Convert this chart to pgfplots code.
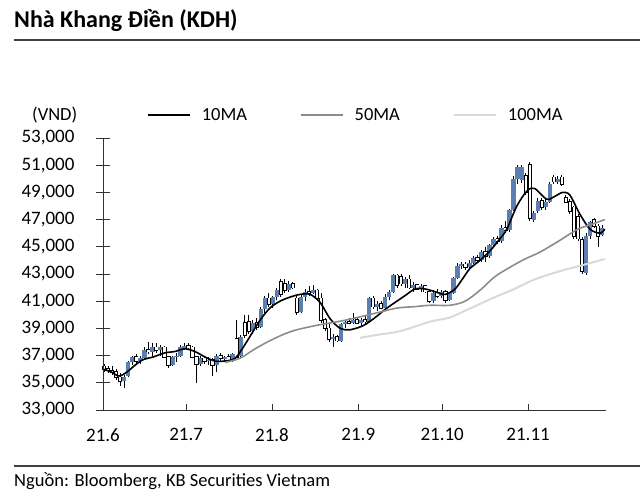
\documentclass[border=0pt]{standalone}
\usepackage{pgfplots}
\pgfplotsset{compat=1.18}
\usepackage{pgfplotstable}
\usepackage{fontspec}
\setmainfont{Carlito}
\definecolor{kbblue}{HTML}{5B80B0}
\definecolor{ma50}{HTML}{8C8C8C}
\definecolor{ma100}{HTML}{D9D9D9}

\pgfplotstableread{
i o h l c
5 35.1 35.6 34.6 35.4
6 35.5 36.6 35.4 36.5
7 36.5 37.0 36.3 36.9
9 36.6 37.0 36.4 36.8
10 36.8 37.6 36.7 37.4
12 37.3 37.9 37.0 37.6
14 37.4 37.8 37.0 37.6
17 36.3 37.0 36.2 36.9
18 36.9 37.2 36.5 37.0
19 37.0 37.8 36.9 37.6
20 37.6 37.9 37.4 37.7
24 36.4 37.0 36.2 36.8
26 36.6 36.9 36.3 36.7
28 36.3 37.1 35.8 37.0
30 36.8 37.0 36.5 36.9
32 36.7 37.2 36.5 37.1
34 37.0 38.5 36.9 38.4
37 38.8 39.6 38.6 39.4
39 39.1 40.6 39.0 40.4
40 40.4 41.4 40.1 41.2
42 40.8 41.4 40.5 41.3
43 41.3 42.0 41.1 41.8
46 41.8 42.5 41.7 42.3
49 40.2 41.5 40.1 41.3
50 41.3 41.9 41.0 41.7
52 41.6 42.2 41.5 41.8
57 38.2 38.6 37.6 38.4
59 38.1 39.4 38.0 39.3
60 39.3 39.6 39.0 39.5
62 39.4 40.1 39.3 39.6
64 39.4 39.8 39.2 39.6
66 39.5 41.3 39.4 41.2
68 40.6 41.0 40.3 40.8
70 40.5 41.5 40.4 41.3
71 41.3 41.8 41.1 41.7
72 41.7 43.0 41.6 42.9
75 42.3 42.8 42.0 42.6
77 42.0 42.4 41.7 42.2
79 41.9 42.3 41.7 42.1
82 41.0 41.8 40.9 41.6
84 41.4 41.8 41.2 41.7
86 41.1 41.7 41.0 41.6
87 41.6 42.8 41.5 42.7
88 42.7 43.8 42.6 43.6
89 43.6 43.9 43.4 43.7
91 43.5 44.0 43.3 43.8
92 43.8 44.3 43.7 44.2
94 44.0 44.8 43.9 44.6
96 44.3 45.2 44.2 45.1
97 45.1 45.7 45.0 45.6
99 45.4 46.6 45.3 46.4
101 46.2 47.8 46.1 47.7
102 47.7 50.2 47.6 50.0
103 50.0 51.0 49.6 50.9
104 49.9 51.0 49.7 50.9
107 47.0 47.6 46.8 47.5
108 47.6 48.6 47.5 48.4
110 47.9 48.5 47.7 48.3
111 48.3 49.8 48.2 49.6
113 49.8 50.2 49.6 50.0
120 43.1 46.0 42.9 45.8
121 45.8 46.9 45.6 46.8
124 45.9 46.6 45.8 46.4
}\upc

\pgfplotstableread{
i o h l c
0 36.2 36.4 35.8 36.0
1 36.0 36.2 35.7 35.9
2 35.9 36.2 35.6 35.8
3 35.8 36.0 35.2 35.4
4 35.4 35.7 34.8 35.1
8 36.9 37.1 36.4 36.6
11 37.4 38.0 37.1 37.3
13 37.6 37.9 37.2 37.4
15 37.6 37.7 36.8 36.9
16 36.9 37.0 36.1 36.3
21 37.7 37.9 37.5 37.6
22 37.6 37.7 36.8 36.9
23 36.9 37.0 35.0 36.4
25 36.8 37.0 36.4 36.6
27 36.7 36.8 35.5 36.3
29 37.0 37.2 36.6 36.8
31 36.9 37.1 36.6 36.7
33 38.2 39.6 36.8 36.9
35 39.4 40.0 38.3 38.5
36 39.5 40.0 38.6 38.8
38 39.4 39.8 38.9 39.1
41 41.2 41.6 40.6 40.8
44 42.4 42.6 41.3 41.5
45 42.3 42.6 41.6 41.8
47 42.3 42.4 41.9 42.0
48 41.2 41.4 40.0 40.2
51 41.7 42.1 41.4 41.6
53 41.8 41.9 41.0 41.2
54 41.2 41.6 39.4 39.6
55 39.6 39.8 38.8 39.0
56 39.0 39.3 38.0 38.2
58 38.4 38.5 38.0 38.1
61 39.5 39.8 39.3 39.4
63 39.6 39.8 39.3 39.4
65 39.6 39.9 39.3 39.5
67 41.2 41.4 40.4 40.6
69 40.8 41.0 40.4 40.5
73 42.9 43.0 42.0 42.2
74 42.8 43.0 42.1 42.3
76 42.6 42.9 41.9 42.0
78 42.2 42.3 41.8 41.9
80 42.1 42.2 41.6 41.7
81 41.7 41.8 40.9 41.0
83 41.6 41.9 41.2 41.4
85 41.7 41.8 40.9 41.1
90 43.7 43.9 43.3 43.5
93 44.2 44.4 43.8 44.0
95 44.6 45.0 43.9 44.3
98 45.6 45.8 45.2 45.4
100 46.4 46.9 46.0 46.2
105 50.2 50.4 48.8 49.0
106 51.0 51.2 46.9 47.1
109 48.4 48.6 47.7 47.9
112 50.1 50.3 49.6 49.8
114 50.1 50.3 49.5 49.6
115 48.6 48.8 48.2 48.3
116 48.3 48.5 47.4 47.6
117 47.9 48.0 45.6 45.8
118 47.2 47.4 45.4 45.6
119 45.5 45.7 43.0 43.2
122 47.0 47.1 46.4 46.5
123 46.5 46.7 45.0 45.8
}\dnc

\pgfplotstableread{
x y
-0.3 36.0
1.7 35.8
3.7 35.5
5.7 35.8
7.7 36.3
9.7 36.7
12.2 36.9
15.1 37.2
17.6 37.3
20.1 37.5
22.6 37.3
25.1 36.9
27.6 36.6
30.1 36.6
32.6 36.8
34.6 37.6
36.3 38.4
38.8 39.6
41.3 40.5
43.8 41.0
46.3 41.3
48.8 41.5
51.3 41.5
53.8 40.9
56.3 39.7
58.8 39.0
61.2 38.9
64.5 39.2
67.5 39.8
70.0 40.4
72.4 40.9
74.9 41.4
77.4 41.9
79.9 41.9
82.4 41.7
84.9 41.5
87.4 41.9
89.4 42.7
91.1 43.4
93.6 44.0
96.1 44.7
98.6 45.6
100.3 46.3
102.8 48.0
105.3 49.1
107.2 49.3
110.2 48.5
112.2 48.7
114.2 49.0
116.0 48.8
118.5 47.4
121.0 46.3
123.5 46.0
124.7 46.3
}\maten

\pgfplotstableread{
x y
30.1 36.5
33.8 36.8
37.6 37.5
41.3 38.1
45.0 38.6
48.0 38.9
52.5 39.2
56.3 39.4
60.0 39.6
64.5 39.9
68.7 40.2
73.0 40.5
77.4 40.6
81.2 40.7
86.1 40.7
89.9 41.0
93.6 41.8
97.3 42.8
101.1 43.5
104.8 44.1
108.5 44.6
113.1 45.4
118.0 46.3
121.0 46.6
124.7 47.0
}\mafifty

\pgfplotstableread{
x y
63.7 38.3
67.5 38.5
73.7 38.8
81.2 39.5
86.1 39.8
89.9 40.3
93.6 40.8
97.3 41.3
101.8 41.85
107.2 42.6
113.4 43.2
118.5 43.6
124.7 44.1
}\mahundred

\begin{document}
\begin{tikzpicture}
\path[use as bounding box] (0,0) rectangle (640pt,500pt);
\node[anchor=base west, inner sep=0pt, font=\fontsize{24}{24}\selectfont\bfseries] at (14pt,472pt) {Nhà Khang Điền (KDH)};
\draw[line width=1.1pt, black!75] (14pt,460pt) -- (640pt,460pt);
\node[anchor=west, inner sep=0pt, font=\fontsize{18.5}{18.5}\selectfont] at (32pt,385pt) {(VND)};
\draw[line width=1.1pt, black!75] (14pt,34pt) -- (640pt,34pt);
\node[anchor=base west, inner sep=0pt, font=\fontsize{18.5}{18.5}\selectfont] at (14pt,13pt) {Nguồn: Bloomberg, KB Securities Vietnam};

\begin{axis}[
  at={(103pt,90pt)}, anchor=south west,
  scale only axis, width=503pt, height=272pt,
  xmin=-0.3, xmax=125, ymin=33, ymax=53,
  axis lines=left, axis line style={black!80, line width=0.8pt, -},
  tick align=inside, major tick length=6pt,
  tick style={black!80, line width=0.8pt},
  xtick={-0.3,20.4,41.8,63.3,84.2,105.6},
  xticklabels={21.6,21.7,21.8,21.9,21.10,21.11},
  ytick={33,35,...,53},
  yticklabels={{33,000},{35,000},{37,000},{39,000},{41,000},{43,000},{45,000},{47,000},{49,000},{51,000},{53,000}},
  ytick style={draw=none},
  ticklabel style={font=\fontsize{19}{19}\selectfont},
  yticklabel style={xshift=-25pt},
  xticklabel style={yshift=-15pt},
  clip=false,
  legend columns=3,
  legend style={draw=none, fill=none, at={(rel axis cs:0,1)}, anchor=west, xshift=44pt, yshift=23pt,
    font=\fontsize{18.5}{18.5}\selectfont, inner sep=0pt,
    /tikz/every odd column/.append style={column sep=9pt},
    /tikz/every even column/.append style={column sep=51pt}},
  legend image code/.code={\draw[#1] (0pt,0pt) -- (42pt,0pt);},
]
% wicks
\addplot[draw=none, mark=none, forget plot, error bars/.cd, y dir=both, y explicit, error mark=none,
  error bar style={draw=black, line width=0.8pt}]
  table[x=i, y expr={(\thisrow{h}+\thisrow{l})/2}, y error expr={(\thisrow{h}-\thisrow{l})/2}] {\upc};
\addplot[draw=none, mark=none, forget plot, error bars/.cd, y dir=both, y explicit, error mark=none,
  error bar style={draw=black, line width=0.8pt}]
  table[x=i, y expr={(\thisrow{h}+\thisrow{l})/2}, y error expr={(\thisrow{h}-\thisrow{l})/2}] {\dnc};
% up bodies
\addplot[draw=none, mark=none, forget plot, error bars/.cd, y dir=both, y explicit, error mark=none,
  error bar style={draw=kbblue, line width=4.4pt}]
  table[x=i, y expr={(\thisrow{o}+\thisrow{c})/2}, y error expr={(\thisrow{c}-\thisrow{o})/2}] {\upc};
% down bodies
\addplot[draw=none, mark=none, forget plot, error bars/.cd, y dir=both, y explicit, error mark=none,
  error bar style={draw=black, line width=4.2pt}]
  table[x=i, y expr={(\thisrow{o}+\thisrow{c})/2}, y error expr={(\thisrow{o}-\thisrow{c})/2+0.06}] {\dnc};
\addplot[draw=none, mark=none, forget plot, error bars/.cd, y dir=both, y explicit, error mark=none,
  error bar style={draw=white, line width=2.4pt}]
  table[x=i, y expr={(\thisrow{o}+\thisrow{c})/2}, y error expr={(\thisrow{o}-\thisrow{c})/2}] {\dnc};
% moving averages
\addplot[black, line width=1.6pt, smooth, tension=0.5, mark=none] table[x=x, y=y] {\maten};
\addlegendentry{10MA}
\addplot[ma50, line width=1.6pt, smooth, tension=0.5, mark=none] table[x=x, y=y] {\mafifty};
\addlegendentry{50MA}
\addplot[ma100, line width=2pt, smooth, tension=0.5, mark=none] table[x=x, y=y] {\mahundred};
\addlegendentry{100MA}
\end{axis}

\begin{axis}[
  at={(103pt,90pt)}, anchor=south west,
  scale only axis, width=503pt, height=272pt,
  xmin=-0.3, xmax=125, ymin=33, ymax=53,
  axis y line*=left, hide x axis,
  axis line style={black!80, line width=0.8pt, -},
  ytick={33,35,...,53}, yticklabels={},
  tick align=center, major tick length=13pt,
  tick style={black!80, line width=0.8pt},
]
\end{axis}
\end{tikzpicture}
\end{document}
